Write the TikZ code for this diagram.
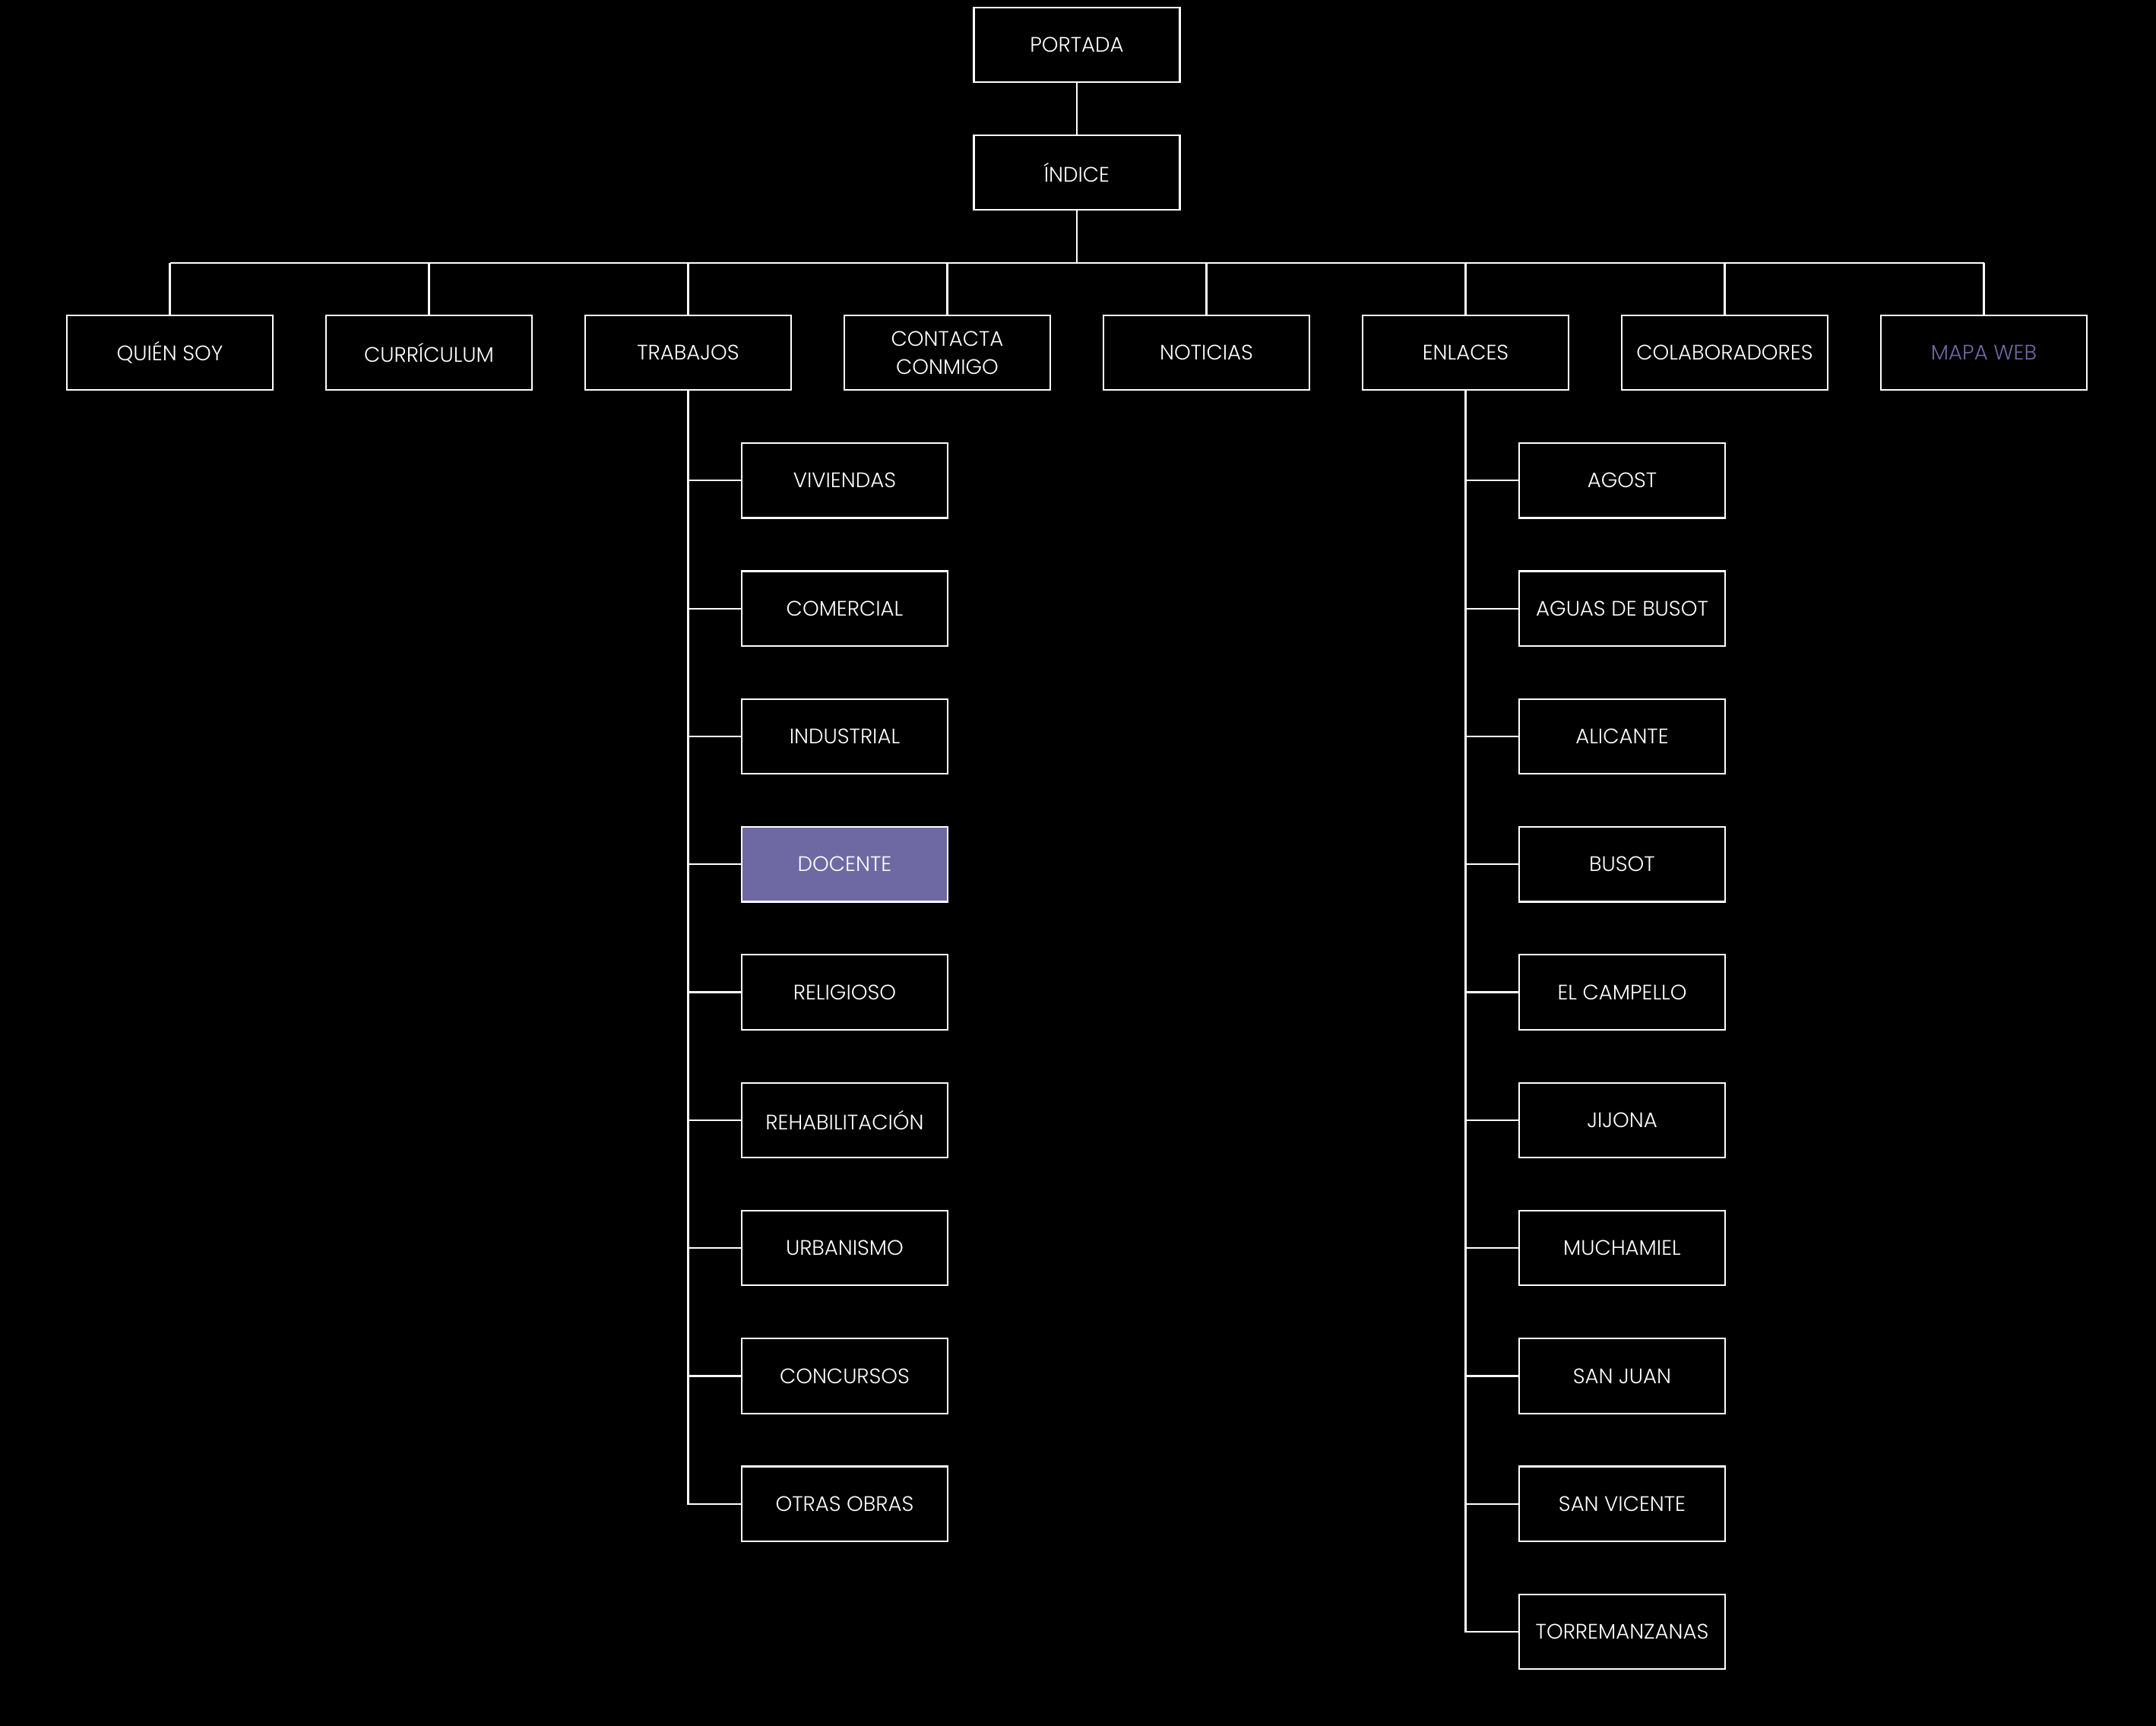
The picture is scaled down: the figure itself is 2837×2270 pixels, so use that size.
\documentclass[tikz,border=0pt]{standalone}
\usepackage{fontspec}
\setmainfont{Poppins Light}
\definecolor{violet}{HTML}{6F69A3}
\begin{document}
\begin{tikzpicture}[x=0.25pt,y=-0.25pt,
  box/.style={draw=white,line width=0.55pt,fill=black,minimum width=67.75pt,minimum height=24.6pt,inner sep=0pt,text=white,font=\fontsize{6.9}{9.2}\selectfont,align=center},
  link/.style={draw=white,line width=0.55pt}]
\useasboundingbox (0,0) rectangle (2837,2270);
\fill[black] (-20,-20) rectangle (2857,2290);
\node[box] (portada) at (1417,59) {PORTADA};
\node[box] (indice) at (1417,227) {ÍNDICE};
\node[box] (quien) at (223.5,464) {QUIÉN SOY};
\node[box] (curr) at (564.5,464) {CURRÍCULUM};
\node[box] (trab) at (905.5,464) {TRABAJOS};
\node[box] (cont) at (1246.5,464) {CONTACTA\\CONMIGO};
\node[box] (noti) at (1587.5,464) {NOTICIAS};
\node[box] (enl) at (1928.5,464) {ENLACES};
\node[box] (colab) at (2269.5,464) {COLABORADORES};
\node[box,text=violet] (mapa) at (2610.5,464) {MAPA WEB};
\coordinate (bar) at (1417,346);
\foreach \n/\t [count=\k] in {viv/VIVIENDAS,com/COMERCIAL,ind/INDUSTRIAL,doc/DOCENTE,rel/RELIGIOSO,reh/REHABILITACIÓN,urb/URBANISMO,conc/CONCURSOS,otr/OTRAS OBRAS}{
  \node[box] (\n) at (1111.5,464+168.3*\k) {\t};
}
\node[box,fill=violet] at (doc) {DOCENTE};
\foreach \n/\t [count=\k] in {ago/AGOST,agu/AGUAS DE BUSOT,ali/ALICANTE,bus/BUSOT,cam/EL CAMPELLO,jij/JIJONA,muc/MUCHAMIEL,sj/SAN JUAN,sv/SAN VICENTE,tor/TORREMANZANAS}{
  \node[box] (\n) at (2134.5,464+168.3*\k) {\t};
}
\draw[link] (portada) -- (indice);
\draw[link] (indice.south) -- (bar);
\draw[link] (quien.north |- bar) -- (mapa.north |- bar);
\foreach \n in {quien,curr,trab,cont,noti,enl,colab,mapa}{\draw[link] (bar -| \n.north) -- (\n.north);}
\foreach \n in {viv,com,ind,doc,rel,reh,urb,conc,otr}{\draw[link] (trab.south) |- (\n.west);}
\foreach \n in {ago,agu,ali,bus,cam,jij,muc,sj,sv,tor}{\draw[link] (enl.south) |- (\n.west);}
\end{tikzpicture}
\end{document}
